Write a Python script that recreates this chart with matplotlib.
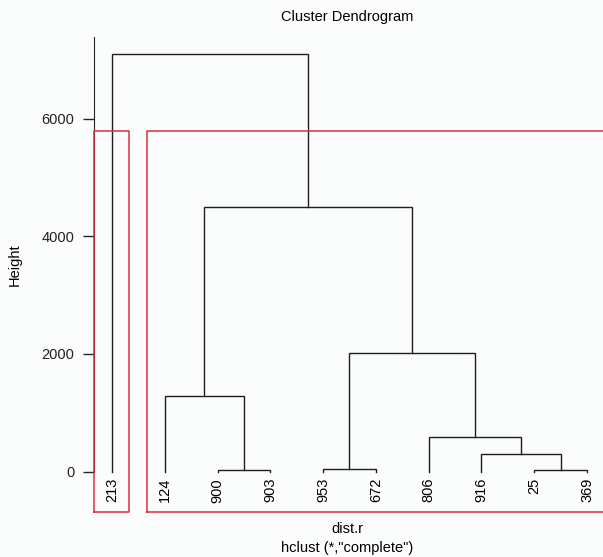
import matplotlib
matplotlib.use("Agg")
import matplotlib.pyplot as plt

# leaves in plotting order
leaf_labels = ["213", "124", "900", "903", "953", "672", "806", "916", "25", "369"]

# R-style merges: negative = leaf (1-based), positive = earlier merge (1-based)
merge_left = [-3, -9, -5, -8, -7, -2, 3, 6, -1]
merge_right = [-4, -10, -6, 2, 4, 1, 5, 7, 8]
merge_height = [25, 25, 42, 297, 592, 1283, 2014, 4496, 7097]

# rect.hclust k=2 groups (first and last leaf, 1-based)
groups = [(1, 1), (2, 10)]

yticks = [0, 2000, 4000, 6000]

plt.rcParams["font.family"] = ["Liberation Sans", "DejaVu Sans"]
bg = "#fbfcfc"
fig = plt.figure(figsize=(6.03, 5.57), dpi=100, facecolor=bg)
ax = fig.add_axes([94 / 603, 45 / 557, 512 / 603, 475 / 557])
ax.set_facecolor(bg)

ymin, ymax = -688, 7386
ax.set_xlim(0.66, 10.36)
ax.set_ylim(ymin, ymax)

pos = {}
hgt = {}


def node(i):
    if i < 0:
        return -i, 0.0
    return pos[i], hgt[i]


for k in range(len(merge_height)):
    xl, yl = node(merge_left[k])
    xr, yr = node(merge_right[k])
    h = merge_height[k]
    ax.plot([xl, xl, xr, xr], [yl, h, h, yr], color="#1e1e1e", lw=1.0, solid_joinstyle="miter")
    pos[k + 1] = (xl + xr) / 2
    hgt[k + 1] = h

for i, lab in enumerate(leaf_labels):
    ax.text(i + 1, -110, lab, rotation=90, ha="center", va="top", fontsize=10.5)

# red boxes
top = (merge_height[-1] + merge_height[-2]) / 2
for a, b in groups:
    ax.plot([a - 0.34, a - 0.34, b + 0.33, b + 0.33, a - 0.34],
            [ymin, top, top, ymin, ymin], color="#d8303b", lw=1.1, clip_on=False, zorder=4)

for s in ["top", "right", "bottom"]:
    ax.spines[s].set_visible(False)
ax.spines["left"].set_bounds(0, ymax)
ax.spines["left"].set_color("#222222")
ax.set_xticks([])
ax.set_yticks(yticks)
ax.tick_params(axis="y", length=8, width=1, colors="#222222", labelsize=10.5, pad=6)

fig.text(347 / 603, 1 - 17 / 557, "Cluster Dendrogram", ha="center", va="center", fontsize=10.5)
fig.text(15 / 603, 1 - 265 / 557, "Height", rotation=90, ha="center", va="center", fontsize=10.5)
fig.text(347 / 603, 1 - 529 / 557, "dist.r", ha="center", va="center", fontsize=10.5)
fig.text(347 / 603, 1 - 548 / 557, 'hclust (*,"complete")', ha="center", va="center", fontsize=10.5)

fig.savefig("out.png", dpi=100, facecolor=bg)
